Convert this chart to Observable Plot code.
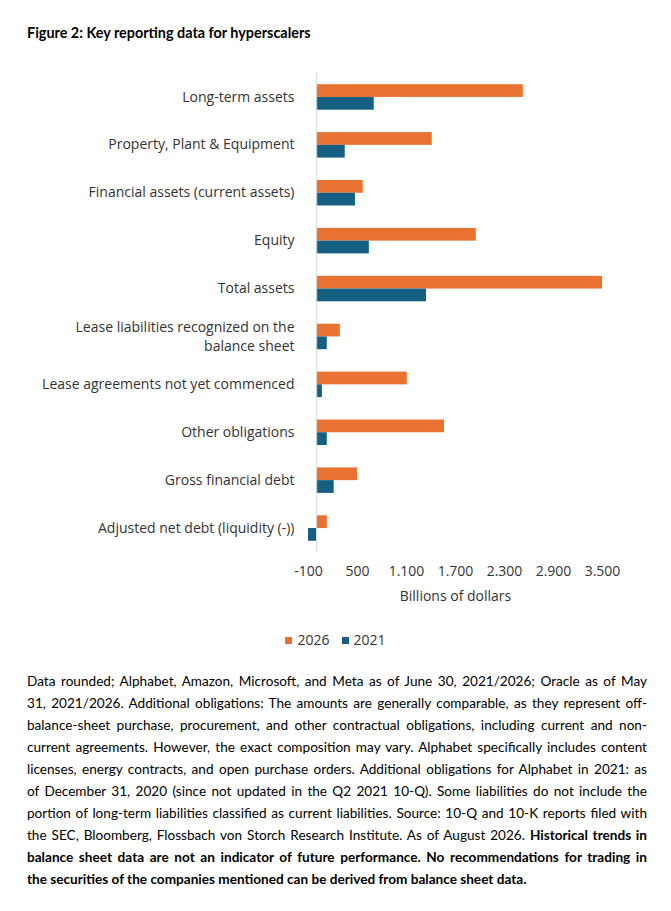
<!DOCTYPE html>
<html>
<head>
<meta charset="utf-8">
<script src="https://cdn.jsdelivr.net/npm/d3@7"></script>
<script src="https://cdn.jsdelivr.net/npm/@observablehq/plot@0.6"></script>
<style>
  html, body { margin: 0; padding: 0; background: #fff; }
  body { width: 671px; height: 911px; position: relative; overflow: hidden; }
  #title { position: absolute; left: 27px; top: 24px; font: bold 14.4px Lato, sans-serif; color: #000; white-space: nowrap; }
  #chart { position: absolute; left: 0; top: 60px; }
  #legend { position: absolute; left: 0; width: 671px; top: 630px; text-align: center; font: 14px "Open Sans", sans-serif; color: #333; }
  #legend span.item { display: inline-block; margin: 0 6px; }
  #legend span.sw { display: inline-block; width: 7px; height: 7px; margin-right: 5px; vertical-align: 1px; }
  #caption { position: absolute; left: 27px; top: 670px; width: 620px; font: 13.6px Lato, sans-serif; color: #000; line-height: 22px; }
  #caption div { white-space: nowrap; text-align: justify; text-align-last: justify; }
  #caption div.last { text-align-last: left; }
</style>
</head>
<body>
<div id="title">Figure 2: Key reporting data for hyperscalers</div>
<div id="chart"></div>
<div id="legend"></div>
<div id="caption"></div>
<script>
const categories = [
  "Long-term assets",
  "Property, Plant & Equipment",
  "Financial assets (current assets)",
  "Equity",
  "Total assets",
  "Lease liabilities recognized on the balance sheet",
  "Lease agreements not yet commenced",
  "Other obligations",
  "Gross financial debt",
  "Adjusted net debt (liquidity (-))"
];
const categoryLabels = [
  "Long-term assets",
  "Property, Plant & Equipment",
  "Financial assets (current assets)",
  "Equity",
  "Total assets",
  "Lease liabilities recognized on the\nbalance sheet",
  "Lease agreements not yet commenced",
  "Other obligations",
  "Gross financial debt",
  "Adjusted net debt (liquidity (-))"
];
const years = ["2026", "2021"];
const values2026 = [2530, 1415, 570, 1955, 3500, 290, 1110, 1565, 500, 130];
const values2021 = [705, 350, 475, 645, 1345, 130, 70, 130, 215, -100];
const colors = ["#E97132", "#156082"];
const xTicks = [-100, 500, 1100, 1700, 2300, 2900, 3500];
const xLabel = "Billions of dollars";

const rows = [];
categories.forEach((c, i) => {
  rows.push({category: c, year: "2026", value: values2026[i]});
  rows.push({category: c, year: "2021", value: values2021[i]});
});
const labelOf = new Map(categories.map((c, i) => [c, categoryLabels[i]]));
const fmt = d => d3.formatLocale({decimal: ",", thousands: ".", grouping: [3], currency: ["", ""], minus: "-"}).format(",d")(d);

const chart = Plot.plot({
  width: 671,
  height: 560,
  marginLeft: 308,
  marginRight: 69,
  marginTop: 13,
  marginBottom: 68,
  style: {fontFamily: "'Open Sans', sans-serif", fontSize: "14px", color: "#333", background: "transparent"},
  x: {domain: [-100, 3500], axis: null},
  fy: {domain: categories, padding: 0, round: false, axis: null, label: null},
  y: {domain: years, paddingInner: 0, paddingOuter: 0.88, round: false, axis: null},
  color: {domain: years, range: colors},
  marks: [
    Plot.barX(rows, {fy: "category", y: "year", x: "value", fill: "year"}),
    Plot.ruleX([0], {stroke: "#d9d9d9", strokeWidth: 1}),
    Plot.axisX({ticks: xTicks, tickSize: 0, tickPadding: 14, tickFormat: fmt, label: xLabel, labelAnchor: "center", labelArrow: "none", labelOffset: 48}),
    Plot.axisFy({anchor: "left", tickSize: 0, tickPadding: 14, dy: -2, tickFormat: d => labelOf.get(d), lineHeight: 1.36, label: null})
  ]
});
document.getElementById("chart").appendChild(chart);

// legend
const legend = document.getElementById("legend");
years.forEach((y, i) => {
  const item = document.createElement("span");
  item.className = "item";
  const sw = document.createElement("span");
  sw.className = "sw";
  sw.style.background = colors[i];
  item.appendChild(sw);
  item.appendChild(document.createTextNode(y));
  legend.appendChild(item);
});

// caption
const captionLines = [
  ["Data rounded; Alphabet, Amazon, Microsoft, and Meta as of June 30, 2021/2026; Oracle as of May", ""],
  ["31, 2021/2026. Additional obligations: The amounts are generally comparable, as they represent off-", ""],
  ["balance-sheet purchase, procurement, and other contractual obligations, including current and non-", ""],
  ["current agreements. However, the exact composition may vary. Alphabet specifically includes content", ""],
  ["licenses, energy contracts, and open purchase orders. Additional obligations for Alphabet in 2021: as", ""],
  ["of December 31, 2020 (since not updated in the Q2 2021 10-Q). Some liabilities do not include the", ""],
  ["portion of long-term liabilities classified as current liabilities. Source: 10-Q and 10-K reports filed with", ""],
  ["the SEC, Bloomberg, Flossbach von Storch Research Institute. As of August 2026. ", "Historical trends in"],
  ["", "balance sheet data are not an indicator of future performance. No recommendations for trading in"],
  ["", "the securities of the companies mentioned can be derived from balance sheet data."]
];
const cap = document.getElementById("caption");
captionLines.forEach(([normal, bold], i) => {
  const d = document.createElement("div");
  if (i === captionLines.length - 1) d.className = "last";
  if (normal) d.appendChild(document.createTextNode(normal));
  if (bold) { const b = document.createElement("b"); b.textContent = bold; d.appendChild(b); }
  cap.appendChild(d);
});
</script>
</body>
</html>
